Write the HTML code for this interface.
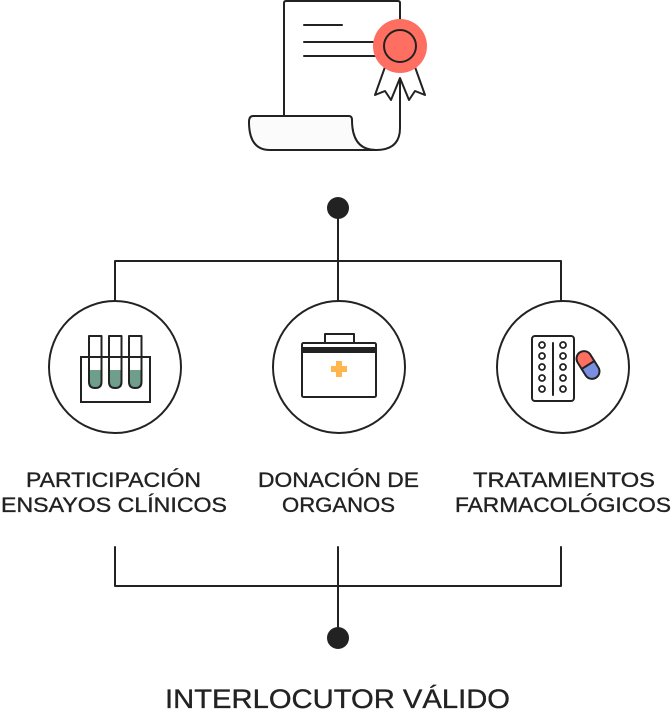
<!DOCTYPE html>
<html><head><meta charset="utf-8"><style>
html,body{margin:0;padding:0;background:#fff;}
svg{display:block}
text{font-family:"Liberation Sans",sans-serif;fill:#222;stroke:#222;stroke-width:0.35;}
</style></head><body>
<svg width="672" height="716" viewBox="0 0 672 716" xmlns="http://www.w3.org/2000/svg">
<g fill="none" stroke="#222" stroke-width="2" stroke-linejoin="round" stroke-linecap="round">
 <path d="M284 116 V3 Q284 1 286 1 H398 Q400 1 400 3 V128 Q400 150 376 150" fill="#fff"/>
 <path d="M253 116 H349 Q352 116 352 120 Q352 150 376 150 H270 Q249 150 249 122 Q249 116 253 116 Z" fill="#fbfbfb"/>
 <line x1="304" y1="25" x2="342" y2="25"/>
 <line x1="304" y1="42" x2="376" y2="42"/>
 <line x1="304" y1="56" x2="376" y2="56"/>
 <path d="M385 67 L375 95 L385 91 L391 100 L400 78 L409 100 L415 91 L425 95 L415 67" fill="#fff"/>
 <circle cx="400" cy="46" r="27" fill="#FF6F61" stroke="none"/>
 <circle cx="400" cy="46" r="16"/>
 <line x1="338" y1="208" x2="338" y2="261"/>
 <polyline points="115,300 115,261 561,261 561,300"/>
 <line x1="338" y1="261" x2="338" y2="300"/>
 <polyline points="115,547 115,586 561,586 561,547"/>
 <line x1="338" y1="547" x2="338" y2="638"/>
 <circle cx="115" cy="367" r="66" fill="#fff"/>
 <circle cx="339" cy="367" r="66" fill="#fff"/>
 <circle cx="563" cy="367" r="66" fill="#fff"/>
 <path d="M89 370 H101.5 V382 Q101.5 388 95.3 388 Q89 388 89 382 Z" fill="#6f9f8c" stroke="none"/>
 <path d="M109 370 H121.5 V382 Q121.5 388 115.3 388 Q109 388 109 382 Z" fill="#6f9f8c" stroke="none"/>
 <path d="M129 370 H141.5 V382 Q141.5 388 135.3 388 Q129 388 129 382 Z" fill="#6f9f8c" stroke="none"/>
 <path d="M89 336 H101.5 V382 Q101.5 388 95.3 388 Q89 388 89 382 Z"/>
 <path d="M109 336 H121.5 V382 Q121.5 388 115.3 388 Q109 388 109 382 Z"/>
 <path d="M129 336 H141.5 V382 Q141.5 388 135.3 388 Q129 388 129 382 Z"/>
 <rect x="81" y="357" width="69" height="45" stroke-linejoin="miter"/>
 <rect x="325" y="334" width="29" height="9"/>
 <rect x="302" y="343" width="74" height="54" rx="1.5" fill="#fff"/>
 <rect x="302" y="347" width="74" height="6" fill="#222" stroke="none"/>
 <rect x="532" y="336" width="42" height="65" rx="3"/>
 <line x1="553" y1="343" x2="553" y2="395"/>
 <g stroke-width="1.8">
  <circle cx="542" cy="345" r="3"/><circle cx="563" cy="345" r="3"/>
  <circle cx="542" cy="356" r="3"/><circle cx="563" cy="356" r="3"/>
  <circle cx="542" cy="367" r="3"/><circle cx="563" cy="367" r="3"/>
  <circle cx="542" cy="378" r="3"/><circle cx="563" cy="378" r="3"/>
  <circle cx="542" cy="389" r="3"/><circle cx="563" cy="389" r="3"/>
 </g>
 <g transform="translate(588 365) rotate(-32)">
  <path d="M-7.5 0 V-7.5 A7.5 7.5 0 0 1 7.5 -7.5 V0 Z" fill="#FF6F61" stroke="none"/>
  <path d="M-7.5 0 V7.5 A7.5 7.5 0 0 0 7.5 7.5 V0 Z" fill="#7B8FE0" stroke="none"/>
  <rect x="-7.5" y="-15" width="15" height="30" rx="7.5"/>
  <line x1="-7.5" y1="0" x2="7.5" y2="0"/>
 </g>
</g>
<path d="M331 366 h5 v-5 h6 v5 h5 v6 h-5 v5 h-6 v-5 h-5 z" fill="#FFB74D"/>
<circle cx="338" cy="208" r="11" fill="#222"/>
<circle cx="338" cy="638" r="11" fill="#222"/>
<g font-size="21">
 <text x="26" y="487" textLength="175" lengthAdjust="spacingAndGlyphs">PARTICIPACIÓN</text>
 <text x="1" y="512" textLength="226" lengthAdjust="spacingAndGlyphs">ENSAYOS CLÍNICOS</text>
 <text x="258" y="487" textLength="161" lengthAdjust="spacingAndGlyphs">DONACIÓN DE</text>
 <text x="282" y="512" textLength="113" lengthAdjust="spacingAndGlyphs">ORGANOS</text>
 <text x="473" y="487" textLength="182" lengthAdjust="spacingAndGlyphs">TRATAMIENTOS</text>
 <text x="455" y="512" textLength="216" lengthAdjust="spacingAndGlyphs">FARMACOLÓGICOS</text>
</g>
<text x="165" y="708" font-size="27" textLength="345" lengthAdjust="spacingAndGlyphs">INTERLOCUTOR VÁLIDO</text>
</svg>
</body></html>
